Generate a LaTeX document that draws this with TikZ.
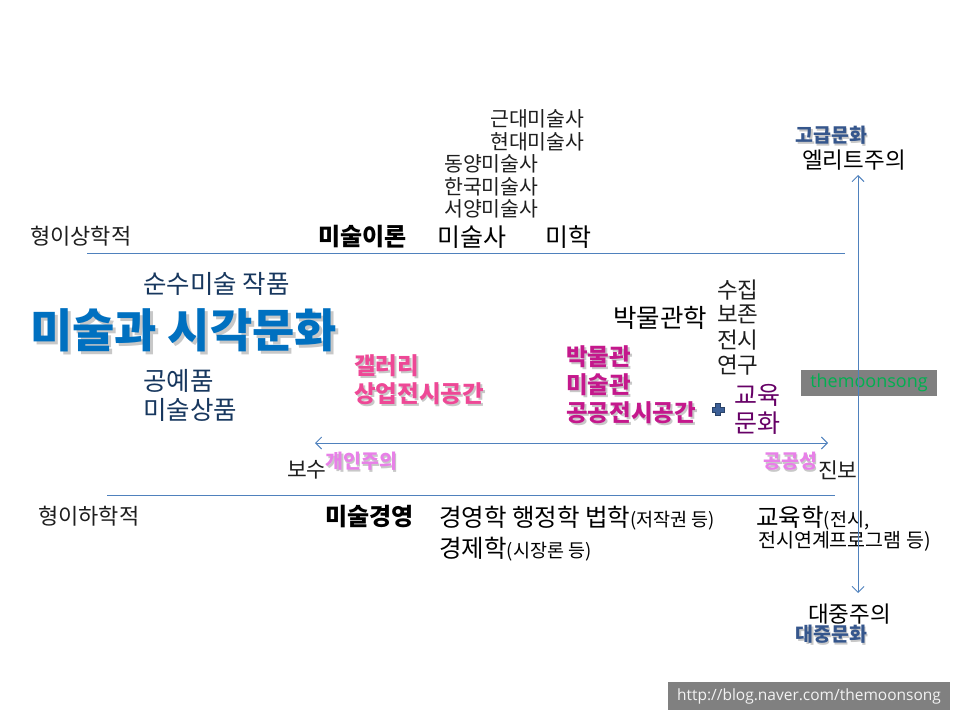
\documentclass[tikz,border=0pt]{standalone}
\usepackage{fontspec}
\setmainfont{Noto Sans CJK KR}
\newfontfamily\latinfont{Open Sans}
\usetikzlibrary{arrows.meta}
\definecolor{lineblue}{RGB}{79,129,189}
\definecolor{navy}{RGB}{23,55,94}
\definecolor{titleblue}{RGB}{0,112,192}
\definecolor{gallerypink}{RGB}{238,72,150}
\definecolor{museummag}{RGB}{196,24,140}
\definecolor{edupurple}{RGB}{102,0,102}
\definecolor{lightviolet}{RGB}{232,128,232}
\definecolor{culblue}{RGB}{53,86,140}
\definecolor{plusblue}{RGB}{60,95,150}
\definecolor{shadowgray}{RGB}{200,200,200}
\definecolor{textgray}{RGB}{30,30,30}
\definecolor{boxgray}{RGB}{128,128,128}
\definecolor{mgreen}{RGB}{0,176,80}
\newcommand\fsz[1]{\fontsize{#1pt}{#1pt}\selectfont}
\newcommand\shnode[6]{%
  \node[#4, text=shadowgray] at (#2+#6,#3+#6) {#5};
  \node[#4] (#1) at (#2,#3) {#5};}
\begin{document}
\begin{tikzpicture}[x=1pt,y=-1pt,
  lbl/.style={anchor=west, inner sep=0pt, font=\fsz{#1}},
  lblb/.style={anchor=west, inner sep=0pt, font=\fsz{#1}\bfseries},
  blbl/.style={anchor=base west, inner sep=0pt, font=\fsz{#1}},
  conn/.style={draw=lineblue, line width=0.9pt},
  dbl/.style={conn, {Straight Barb[length=6pt,width=12pt]}-{Straight Barb[length=6pt,width=12pt]}}]
\useasboundingbox (0,0) rectangle (960,720);

% watermark box (under vertical line)
\node[fill=boxgray, minimum width=136pt, minimum height=26pt, inner sep=0pt,
      text=mgreen, font=\latinfont\fsz{18}] (wm) at (869,383) {themoonsong};

% horizontal rules
\coordinate (t1) at (87,253); \coordinate (t2) at (845,253);
\coordinate (b1) at (107,495); \coordinate (b2) at (835,495);
\draw[conn] (t1) -- (t2);
\draw[conn] (b1) -- (b2);
% arrows
\coordinate (vt) at (858,175); \coordinate (vb) at (858,593);
\coordinate (hl) at (315,443); \coordinate (hr) at (828,443);
\draw[dbl] (hl) -- (hr);

% left labels
\node[lbl=22, text=textgray] (meta1) at (30,236) {형이상학적};
\node[lbl=22, text=textgray] (meta2) at (38,516) {형이하학적};

% theory row
\node[lblb=24] (theory) at (318,237) {미술이론};
\node[lbl=25] (history) at (437,237) {미술사};
\node[lbl=25] (aesth) at (545,237) {미학};
\node[lbl=20.5, text=textgray] (h1) at (490,119) {근대미술사};
\node[lbl=20.5, text=textgray] (h2) at (490,142) {현대미술사};
\node[lbl=20.5, text=textgray] (h3) at (444,164) {동양미술사};
\node[lbl=20.5, text=textgray] (h4) at (444,187) {한국미술사};
\node[lbl=20.5, text=textgray] (h5) at (444,209) {서양미술사};

% left block
\node[lbl=25.5, text=navy] (pure) at (143,284) {순수미술 작품};
\shnode{title}{30}{330}{lblb=46, text=titleblue}{미술과 시각문화}{3}
\node[lbl=25.5, text=navy] (craft) at (143,381) {공예품};
\node[lbl=25.5, text=navy] (goods) at (143,410) {미술상품};

% gallery
\shnode{gal1}{354}{366}{lblb=23.5, text=gallerypink}{갤러리}{1.8}
\shnode{gal2}{354}{394}{lblb=23.5, text=gallerypink}{상업전시공간}{1.8}
% museum
\shnode{mus1}{566}{357}{lblb=23.5, text=museummag}{박물관}{1.8}
\shnode{mus2}{566}{385}{lblb=23.5, text=museummag}{미술관}{1.8}
\shnode{mus3}{566}{413}{lblb=23.5, text=museummag}{공공전시공간}{1.8}

\node[lbl=25.5] (museology) at (613,318) {박물관학};
\node[lbl=22.5, text=textgray] (f1) at (717,290) {수집};
\node[lbl=22.5, text=textgray] (f2) at (717,314) {보존};
\node[lbl=22.5, text=textgray] (f3) at (717,340) {전시};
\node[lbl=22.5, text=textgray] (f4) at (717,365) {연구};

% plus
\node[inner sep=0pt] (plus) at (718,410) {};
\fill[plusblue, draw=plusblue!70!black, line width=0.4pt]
  (712,407) -- (715.5,407) -- (715.5,403.5) -- (720.5,403.5) -- (720.5,407) -- (724,407)
  -- (724,412) -- (720.5,412) -- (720.5,415.5) -- (715.5,415.5) -- (715.5,412) -- (712,412) -- cycle;
\node[lbl=25, text=edupurple] (edu1) at (734,395) {교육};
\node[lbl=25, text=edupurple] (edu2) at (734,423) {문화};

% culture ends
\shnode{high}{795}{135}{lblb=19.5, text=culblue}{고급문화}{1.8}
\node[lbl=22.5] (elite) at (802,160) {엘리트주의};
\node[lbl=22.5] (mass) at (808,614) {대중주의};
\shnode{pop}{795}{634}{lblb=19.5, text=culblue}{대중문화}{1.8}

% conservative / progressive
\node[lbl=21.5, text=textgray] (cons) at (287,470) {보수};
\node[lbl=21.5, text=textgray] (prog) at (818,470) {진보};
\shnode{indiv}{325}{461}{lblb=19.5, text=lightviolet}{개인주의}{1.8}
\shnode{public}{763}{461}{lblb=19.5, text=lightviolet}{공공성}{1.8}

% management row
\node[lblb=24] (mgmt) at (325,517) {미술경영};
\node[blbl=24.5] (disc1) at (439,526) {경영학 행정학 법학{\fsz{18.5}(저작권 등)}};
\node[blbl=24.5] (disc2) at (439,557) {경제학{\fsz{18.5}(시장론 등)}};
\node[blbl=24.5] (edusci) at (756,526) {교육학{\fsz{18.5}(전시,}};
\node[lbl=19.5] (edusci2) at (758,541) {전시연계프로그램 등)};

% vertical arrow (drawn over the texts it crosses)
\draw[dbl] (vt) -- (vb);

% url box
\node[fill=boxgray, minimum width=282pt, minimum height=28pt, inner sep=0pt,
      text=white!95!black, font=\latinfont\fsz{15.5}] (url) at (809,696) {http://blog.naver.com/themoonsong};
\end{tikzpicture}
\end{document}
